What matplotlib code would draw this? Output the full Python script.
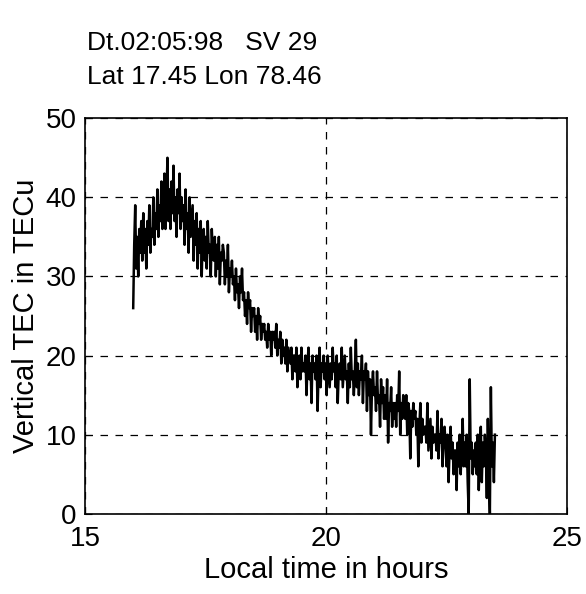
import matplotlib
matplotlib.use("Agg")
import matplotlib.pyplot as plt
import numpy as np

plt.rcParams['font.family'] = ['Liberation Sans', 'DejaVu Sans']

title_lines = ["Dt.02:05:98   SV 29", "Lat 17.45 Lon 78.46"]
t_start = 16.0
t_end = 23.5

# vertical TEC readings (TECu)
vtec = [
    26, 34, 39, 31, 35, 30, 36, 33, 37, 32,
    38, 33, 36, 31, 37, 34, 39, 33, 36, 35,
    40, 34, 38, 36, 41, 35, 39, 37, 42, 36,
    38, 43, 36, 40, 45, 37, 41, 36, 42, 38,
    44, 37, 40, 35, 41, 38, 43, 36, 40, 37,
    39, 34, 41, 36, 38, 33, 40, 35, 37, 39,
    32, 37, 34, 38, 31, 36, 33, 37, 30, 35,
    36, 32, 35, 31, 37, 33, 34, 30, 36, 33,
    32, 35, 30, 34, 31, 35, 29, 33, 32, 34,
    33, 29, 32, 30, 34, 28, 31, 30, 32, 29,
    30, 27, 31, 28, 29, 26, 30, 28, 31, 27,
    28, 25, 27, 24, 28, 26, 27, 23, 26, 25,
    26, 23, 25, 22, 26, 24, 25, 22, 24, 23,
    24, 22, 23, 21, 24, 22, 23, 20, 23, 22,
    23, 21, 24, 20, 22, 21, 23, 19, 22, 20,
    21, 19, 22, 18, 21, 20, 19, 21, 17, 20,
    20, 18, 21, 16, 19, 20, 17, 21, 18, 19,
    18, 20, 15, 19, 21, 17, 19, 14, 20, 18,
    19, 17, 20, 13, 18, 21, 16, 19, 18, 20,
    17, 19, 15, 20, 18, 16, 19, 17, 21, 18,
    19, 16, 20, 14, 18, 19, 17, 21, 16, 18,
    20, 17, 18, 14, 19, 16, 21, 17, 18, 15,
    18, 22, 16, 19, 15, 18, 17, 20, 14, 18,
    17, 19, 13, 18, 15, 17, 10, 16, 18, 15,
    16, 13, 18, 14, 15, 11, 17, 14, 16, 12,
    15, 12, 17, 9, 14, 13, 16, 11, 14, 12,
    14, 11, 15, 13, 18, 10, 14, 12, 15, 13,
    12, 15, 10, 14, 13, 7, 13, 11, 14, 12,
    13, 10, 12, 6, 11, 14, 9, 12, 10, 11,
    11, 9, 14, 8, 10, 12, 7, 11, 9, 10,
    10, 8, 13, 7, 10, 9, 12, 6, 9, 11,
    9, 6, 10, 4, 8, 11, 7, 9, 5, 8,
    8, 3, 9, 6, 10, 5, 8, 12, 6, 9,
    6, 10, 4, 0, 17, 7, 9, 5, 8, 6,
    9, 5, 10, 3, 8, 11, 4, 9, 6, 10,
    8, 2, 12, 5, 0, 16, 6, 9, 4, 10,
]

local_time = np.linspace(t_start, t_end, len(vtec))

fig = plt.figure(figsize=(5.86, 5.94), dpi=100)
ax = fig.add_axes([0.145, 0.135, 0.823, 0.666])

ax.plot(local_time, vtec, color='black', linewidth=1.8)

ax.set_xlim(15, 25)
ax.set_ylim(0, 50)
ax.set_xticks([15, 20, 25])
ax.set_yticks([0, 10, 20, 30, 40, 50])
ax.grid(True, color='black', linestyle=(0, (6, 6)), linewidth=0.9)
ax.tick_params(direction='in', length=5, labelsize=20)
ax.tick_params(axis='x', pad=9)
ax.tick_params(axis='y', pad=6)
for s in ax.spines.values():
    s.set_linewidth(1.2)

ax.set_xlabel("Local time in hours", fontsize=21, labelpad=3)
ax.set_ylabel("Vertical TEC in TECu", fontsize=21, labelpad=4)

fig.text(0.148, 0.928, title_lines[0], fontsize=19, ha='left', va='center')
fig.text(0.148, 0.870, title_lines[1], fontsize=19, ha='left', va='center')

fig.savefig("out.png", dpi=100)
